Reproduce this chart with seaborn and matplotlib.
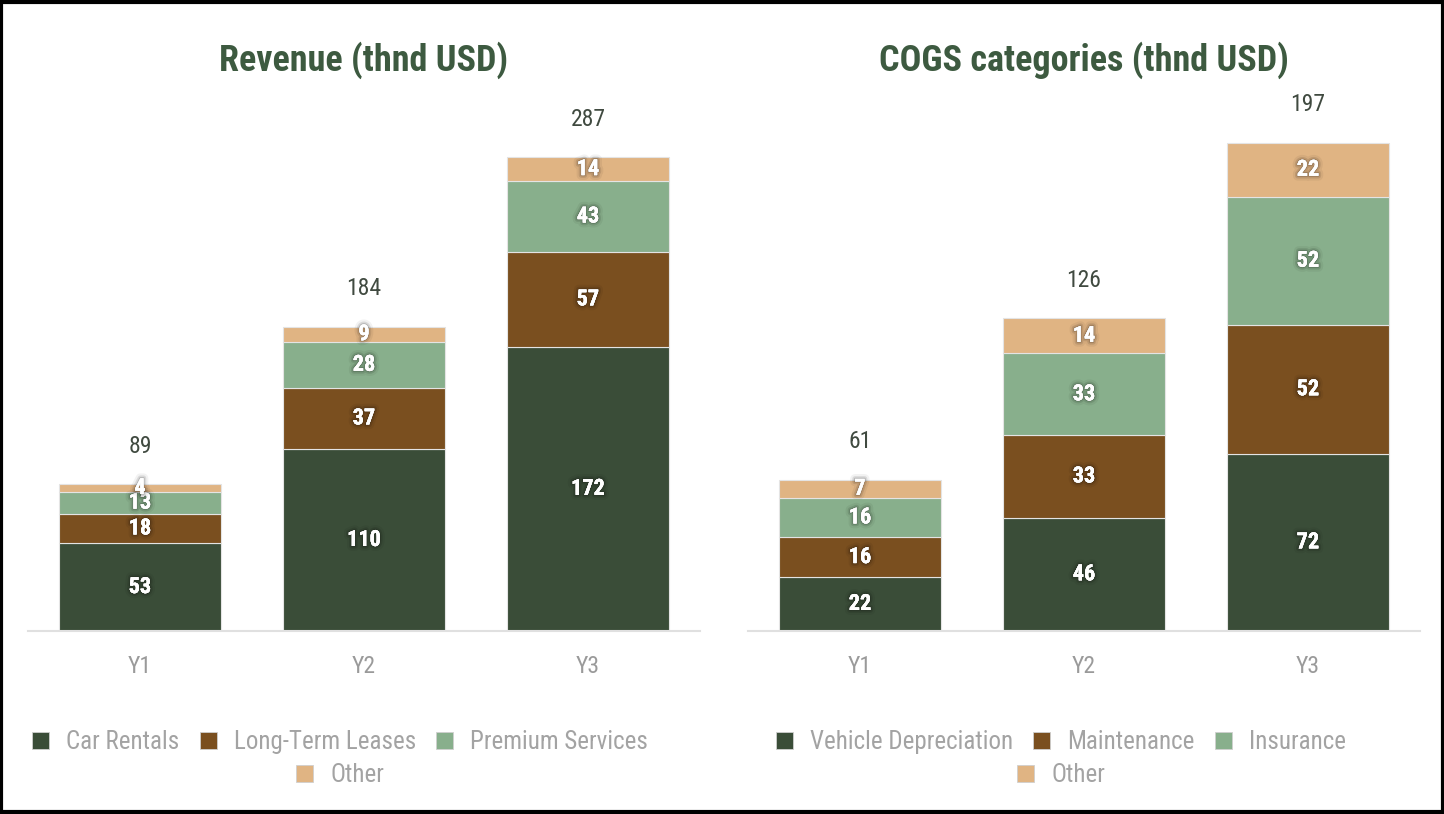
import matplotlib
matplotlib.use("Agg")
import matplotlib.pyplot as plt
import matplotlib.patheffects as pe
from matplotlib.patches import Patch, Rectangle
import seaborn as sns
import pandas as pd
from matplotlib import font_manager

# ---- data (thousand USD) ----
years = ["Y1", "Y2", "Y3"]

revenue_series = ["Car Rentals", "Long-Term Leases", "Premium Services", "Other"]
car_rentals = [53.2, 110.2, 172.1]
long_term_leases = [17.8, 37.0, 57.3]
premium_services = [13.4, 27.8, 43.0]
revenue_other = [4.3, 9.2, 14.4]

cogs_series = ["Vehicle Depreciation", "Maintenance", "Insurance", "Other"]
vehicle_depreciation = [21.8, 45.8, 71.6]
maintenance = [16.1, 33.2, 52.0]
insurance = [15.9, 33.1, 51.7]
cogs_other = [7.3, 14.1, 21.8]

colors = ["#3a4d38", "#7a4f1f", "#88af8c", "#e0b483"]

# ---- style ----
sns.set_theme(style="white")
available = {f.name for f in font_manager.fontManager.ttflist}
narrow = next((f for f in ["Liberation Sans Narrow", "Roboto Condensed", "Arial Narrow"]
               if f in available), "Liberation Sans")
plt.rcParams["font.family"] = [narrow, "DejaVu Sans"]

W, H = 1444, 814
fig = plt.figure(figsize=(W / 100, H / 100), dpi=100)
fig.patch.set_facecolor("white")


def fx(px):
    return px / W


def fy(py):
    return (H - py) / H


# soft dark glow behind the white segment labels
label_fx = [pe.withStroke(linewidth=7, foreground=(0, 0, 0, 0.05)),
            pe.withStroke(linewidth=4, foreground=(0, 0, 0, 0.10)),
            pe.withStroke(linewidth=1.8, foreground=(0, 0, 0, 0.14)),
            pe.Normal()]


def stacked_panel(ax, title, names, series, ymax, legend_cx):
    frame = pd.DataFrame({"year": years})
    bottom = [0.0] * len(years)
    for name, vals, col in zip(names, series, colors):
        frame[name] = vals
        sns.barplot(x=frame["year"], y=frame[name], bottom=bottom, color=col,
                    width=0.72, ax=ax, edgecolor="#e4e4e4", linewidth=0.8,
                    saturation=1)
        for i, (b, v) in enumerate(zip(bottom, vals)):
            ax.text(i, b + v / 2, f"{v:.0f}", ha="center", va="center",
                    color="white", fontsize=16, fontweight="bold",
                    path_effects=label_fx, zorder=5)
        bottom = [b + v for b, v in zip(bottom, vals)]
    for i, tot in enumerate(bottom):
        ax.annotate(f"{tot:.0f}", (i, tot), xytext=(0, 27.5),
                    textcoords="offset points", ha="center", va="center",
                    fontsize=17, color="#404a40")
    ax.set_xlim(-0.5, 2.5)
    ax.set_ylim(0, ymax)
    ax.set_xlabel("")
    ax.set_ylabel("")
    ax.set_yticks([])
    ax.tick_params(axis="x", length=0, pad=17, labelsize=17, labelcolor="#9a9a9a")
    for s in ["top", "right", "left"]:
        ax.spines[s].set_visible(False)
    ax.spines["bottom"].set_color("#e0e0e0")
    ax.spines["bottom"].set_linewidth(1.5)
    ax.set_title(title, fontsize=26, fontweight="bold", color="#3d5a40",
                 y=1.0, pad=0)
    ax.title.set_position((0.5, (631 - 60) / 531))
    ax.title.set_va("center")

    handles = [Patch(facecolor=c, edgecolor="#cfcfcf", linewidth=0.6) for c in colors]
    common = dict(frameon=False, fontsize=18, labelcolor="#a3a3a3",
                  handlelength=0.68, handleheight=0.68, handletextpad=0.68,
                  columnspacing=0.8, borderaxespad=0, borderpad=0)
    fig.legend(handles[:3], names[:3], ncol=3, loc="center",
               bbox_to_anchor=(fx(legend_cx), fy(742)), **common)
    fig.legend(handles[3:], names[3:], ncol=1, loc="center",
               bbox_to_anchor=(fx(legend_cx), fy(775.5)), **common)


ax1 = fig.add_axes([fx(28), fy(631), fx(672), 531 / H])
ax2 = fig.add_axes([fx(748), fy(631), fx(672), 531 / H])

stacked_panel(ax1, "Revenue (thnd USD)", revenue_series,
              [car_rentals, long_term_leases, premium_services, revenue_other],
              531 / 1.652, 340)
stacked_panel(ax2, "COGS categories (thnd USD)", cogs_series,
              [vehicle_depreciation, maintenance, insurance, cogs_other],
              531 / 2.477, 1061)

# outer frame
fig.patches.append(Rectangle((0.001, 0.002), 0.998, 0.996, transform=fig.transFigure,
                             fill=False, edgecolor="black", linewidth=3))

fig.savefig("out.png", dpi=100, facecolor="white")
